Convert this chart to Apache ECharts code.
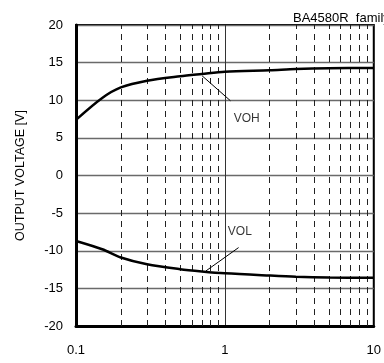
<!DOCTYPE html>
<html>
<head>
<meta charset="utf-8">
<script src="https://cdn.jsdelivr.net/npm/echarts@6/dist/echarts.min.js"></script>
<style>
  html, body { margin: 0; padding: 0; background: #fff; }
  #chart { width: 384px; height: 363px; }
</style>
</head>
<body>
<div id="chart"></div>
<script>
// load sweep (x, log) and output levels
const xVals = [0.1, 0.15, 0.2, 0.3, 0.5, 0.7, 1, 2, 3, 5, 10]
const vohVals = [7.4, 10.3, 11.7, 12.6, 13.2, 13.5, 13.8, 14.0, 14.15, 14.25, 14.3]
const volVals = [-8.7, -9.8, -10.9, -11.8, -12.45, -12.75, -13.0, -13.3, -13.45, -13.55, -13.6]
const yTicks = [-20, -15, -10, -5, 0, 5, 10, 15, 20]
const xTickLabels = ['0.1', '1', '10']
// dashed vertical grid inside each decade
const minorX = [0.2, 0.3, 0.4, 0.5, 0.6, 0.7, 0.8, 0.9, 2, 3, 4, 5, 6, 7, 8, 9]
// leader lines and curve labels
const vohLeader = [[0.703, 13.25], [1.09, 9.93]]
const volLeader = [[0.746, -12.68], [1.236, -9.58]]
const curveNames = ['VOH', 'VOL']
const labelPos = [[1.146, 7.55], [1.046, -7.5]]

const chart = echarts.init(document.getElementById('chart'))
const font = 'Liberation Sans, Arial, sans-serif'

const pair = (xs, ys) => xs.map((x, i) => [x, ys[i]])

const option = {
  animation: false,
  title: {
    text: 'BA4580R  family',
    left: 288,
    top: 7,
    textStyle: { fontSize: 13, fontWeight: 'normal', color: '#000', fontFamily: font },
  },
  grid: {
    left: 76,
    top: 25,
    width: 304,
    bottom: 37,
    show: true,
    borderColor: '#000',
    borderWidth: 2,
  },
  xAxis: {
    type: 'log',
    logBase: 10,
    min: 0.1,
    max: 10,
    axisLine: { show: true, onZero: false, lineStyle: { color: '#000', width: 3 } },
    axisTick: { show: false },
    axisLabel: {
      margin: 18,
      fontSize: 13,
      color: '#000',
      fontFamily: font,
      formatter: v => (v < 0.5 ? xTickLabels[0] : v < 5 ? xTickLabels[1] : xTickLabels[2]),
    },
    splitLine: { show: true, lineStyle: { color: '#333', width: 1 } },
  },
  yAxis: {
    type: 'value',
    min: yTicks[0],
    max: yTicks[yTicks.length - 1],
    interval: 5,
    name: 'OUTPUT VOLTAGE [V]',
    nameLocation: 'middle',
    nameGap: 49,
    nameTextStyle: { fontSize: 12.5, color: '#000', fontFamily: font },
    axisLine: { show: true, lineStyle: { color: '#000', width: 3 } },
    axisTick: { show: false },
    axisLabel: { margin: 13, fontSize: 13, color: '#000', fontFamily: font },
    splitLine: { show: true, lineStyle: { color: '#6a6a6a', width: 1.3 } },
  },
  series: [
    {
      name: curveNames[0],
      type: 'line',
      data: pair(xVals, vohVals),
      smooth: 0.3,
      symbol: 'none',
      lineStyle: { color: '#000', width: 2.5 },
      z: 5,
      markLine: {
        silent: true,
        symbol: 'none',
        label: { show: false },
        lineStyle: { color: '#222', type: [6, 5], width: 1 },
        data: minorX.map(v => ({ xAxis: v })),
        z: 1,
      },
    },
    {
      name: curveNames[1],
      type: 'line',
      data: pair(xVals, volVals),
      smooth: 0.3,
      symbol: 'none',
      lineStyle: { color: '#000', width: 2.5 },
      z: 5,
    },
    {
      type: 'line',
      data: vohLeader,
      symbol: 'none',
      lineStyle: { color: '#000', width: 1 },
    },
    {
      type: 'line',
      data: volLeader,
      symbol: 'none',
      lineStyle: { color: '#000', width: 1 },
    },
    {
      type: 'scatter',
      symbolSize: 0,
      data: labelPos.map((p, i) => ({ value: p, name: curveNames[i] })),
      label: {
        show: true,
        position: 'right',
        distance: 0,
        formatter: p => p.name,
        fontSize: 12,
        color: '#000',
        fontFamily: font,
      },
    },
  ],
}

chart.setOption(option)
</script>
</body>
</html>
